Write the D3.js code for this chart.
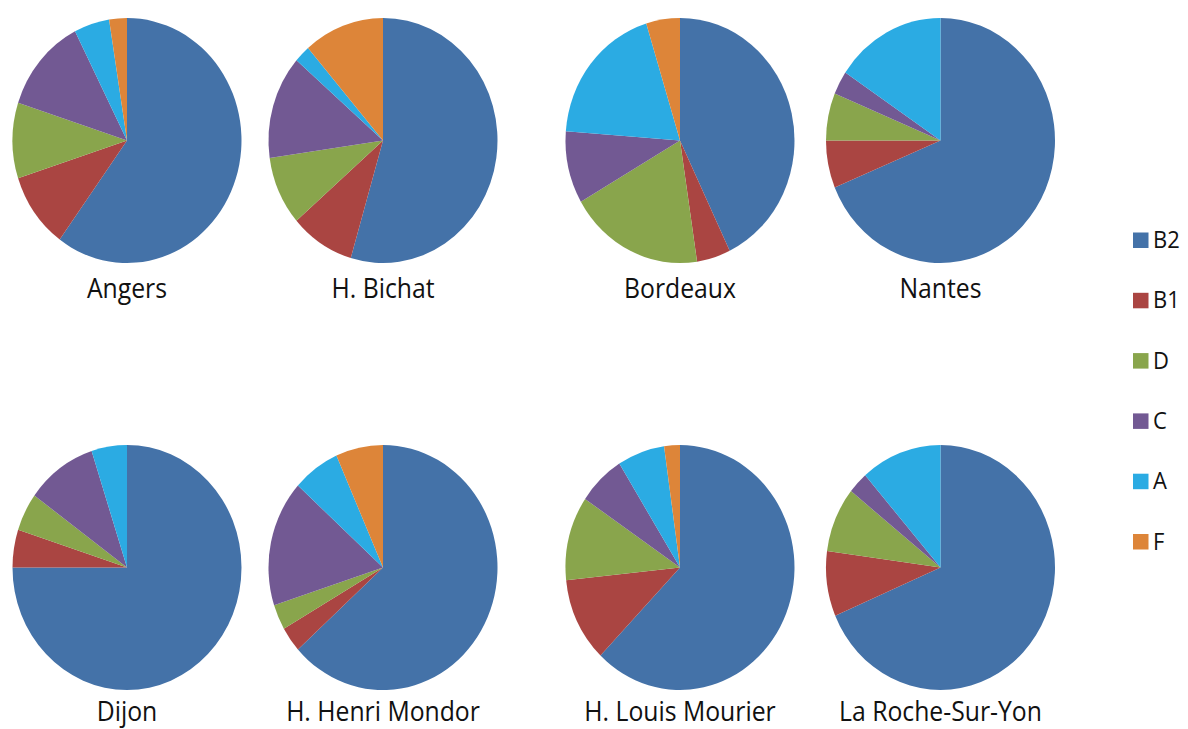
<!DOCTYPE html>
<html>
<head>
<meta charset="utf-8">
<script src="https://cdn.jsdelivr.net/npm/d3@7"></script>
<style>
  html, body { margin: 0; padding: 0; background: #ffffff; }
  svg { display: block; }
</style>
</head>
<body>
<svg id="chart" width="1188" height="729"></svg>
<script>
// ---- Data (counts) ----
const sites = ["Angers", "H. Bichat", "Bordeaux", "Nantes",
               "Dijon", "H. Henri Mondor", "H. Louis Mourier", "La Roche-Sur-Yon"];
const categories = ["B2", "B1", "D", "C", "A", "F"];
const valuesB2 = [24, 24, 9, 22, 15, 19, 28, 24];
const valuesB1 = [4, 4, 1, 2, 1, 1, 5, 3];
const valuesD  = [4, 4, 4, 2, 1, 1, 5, 3];
const valuesC  = [5, 6, 2, 1, 2, 5, 3, 1];
const valuesA  = [2, 1, 4, 5, 1, 2, 3, 4];
const valuesF  = [1, 5, 1, 0, 0, 2, 1, 0];
const colors = ["#4472a8", "#aa4542", "#89a54c", "#725993", "#2babe3", "#dd8539"];

// ---- Layout ----
const colX = [127, 383, 680, 940.5];
const rowY = [140.5, 567.5];
const labelOffset = [157, 153.5];
const ry = 122.5, rx = 114.5;
const kx = rx / ry;

const svg = d3.select("#chart");
const seriesByCat = [valuesB2, valuesB1, valuesD, valuesC, valuesA, valuesF];
const color = d3.scaleOrdinal().domain(categories).range(colors);

const pie = d3.pie().sort(null).value(d => d.value);
const arc = d3.arc().innerRadius(0).outerRadius(ry);

sites.forEach((site, i) => {
  const data = categories.map((c, j) => ({ cat: c, value: seriesByCat[j][i] }));
  const row = Math.floor(i / 4);
  const cx = colX[i % 4], cy = rowY[row];
  const g = svg.append("g")
    .attr("transform", `translate(${cx},${cy}) scale(${kx},1)`);
  g.selectAll("path")
    .data(pie(data))
    .join("path")
    .attr("d", arc)
    .attr("fill", d => color(d.data.cat));

  svg.append("g")
    .attr("transform", `translate(${cx},${cy + labelOffset[row]}) scale(${kx},1)`)
    .append("text")
    .attr("text-anchor", "middle")
    .attr("font-family", "'Open Sans', sans-serif")
    .attr("font-size", 26.5)
    .attr("fill", "#111")
    .text(site);
});

// ---- Legend ----
const legY0 = 240, legStep = 60.3;
const leg = svg.append("g");
categories.forEach((c, j) => {
  const y = legY0 + j * legStep;
  leg.append("rect")
    .attr("x", 1133).attr("y", y - 7.5)
    .attr("width", 15.5).attr("height", 15.5)
    .attr("fill", color(c));
  leg.append("g")
    .attr("transform", `translate(1153,${y + 8}) scale(${kx},1)`)
    .append("text")
    .attr("font-family", "'Open Sans', sans-serif")
    .attr("font-size", 23.5)
    .attr("fill", "#111")
    .text(c);
});
</script>
</body>
</html>
